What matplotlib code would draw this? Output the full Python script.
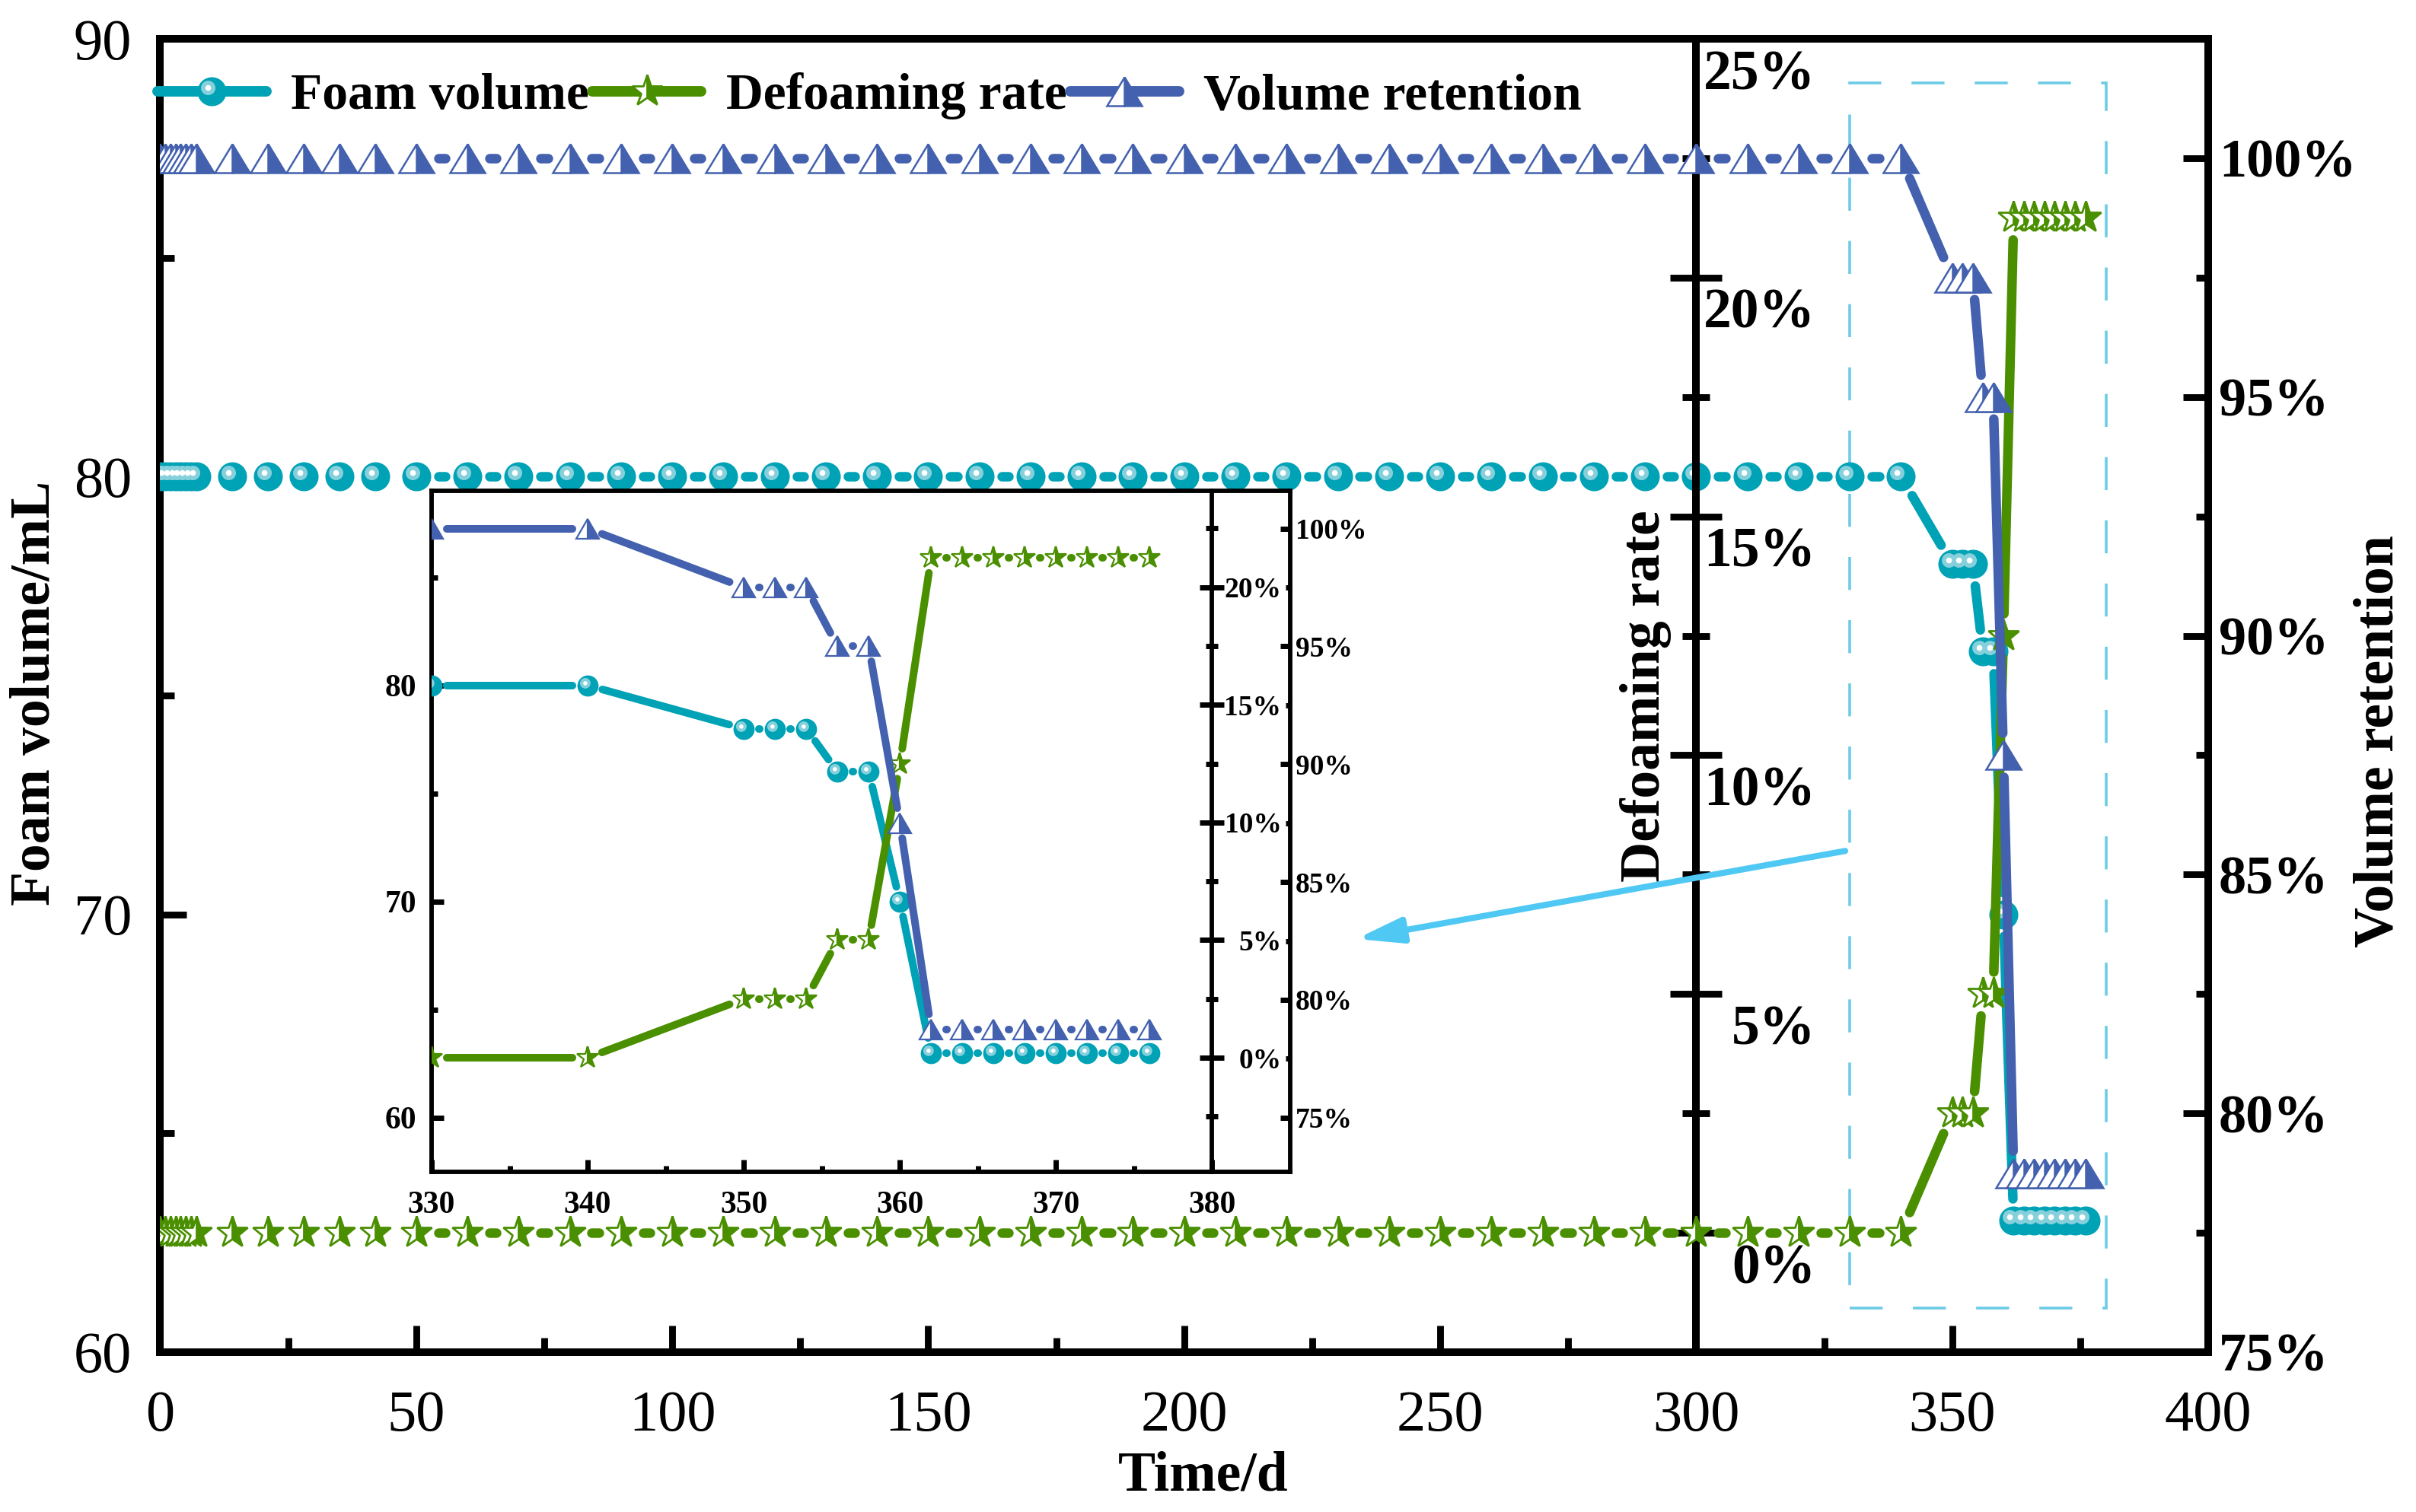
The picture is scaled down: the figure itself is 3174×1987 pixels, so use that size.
import numpy as np
import matplotlib
matplotlib.use("Agg")
from matplotlib import pyplot as plt
from matplotlib.collections import LineCollection
from matplotlib.lines import Line2D
from matplotlib.markers import MarkerStyle
from matplotlib.patches import Rectangle
from matplotlib.transforms import Affine2D, ScaledTranslation

plt.rcParams["font.family"] = ["Liberation Serif", "DejaVu Serif"]

# ---- values ----
time_d = [0, 1, 2, 3, 4, 5, 6, 7, 14, 21, 28, 35, 42,
          50, 60, 70, 80, 90, 100, 110, 120, 130, 140, 150, 160, 170, 180, 190,
          200, 210, 220, 230, 240, 250, 260, 270, 280, 290, 300, 310, 320, 330, 340,
          350, 352, 354, 356, 358, 360, 362, 364, 366, 368, 370, 372, 374, 376]
foam_ml = [80, 80, 80, 80, 80, 80, 80, 80, 80, 80, 80, 80, 80,
           80, 80, 80, 80, 80, 80, 80, 80, 80, 80, 80, 80, 80, 80, 80,
           80, 80, 80, 80, 80, 80, 80, 80, 80, 80, 80, 80, 80, 80, 80,
           78, 78, 78, 76, 76, 70, 63, 63, 63, 63, 63, 63, 63, 63]
defoam_pct = [0, 0, 0, 0, 0, 0, 0, 0, 0, 0, 0, 0, 0,
              0, 0, 0, 0, 0, 0, 0, 0, 0, 0, 0, 0, 0, 0, 0,
              0, 0, 0, 0, 0, 0, 0, 0, 0, 0, 0, 0, 0, 0, 0,
              2.5, 2.5, 2.5, 5, 5, 12.5, 21.25, 21.25, 21.25, 21.25, 21.25, 21.25, 21.25, 21.25]
retention_pct = [100, 100, 100, 100, 100, 100, 100, 100, 100, 100, 100, 100, 100,
                 100, 100, 100, 100, 100, 100, 100, 100, 100, 100, 100, 100, 100, 100, 100,
                 100, 100, 100, 100, 100, 100, 100, 100, 100, 100, 100, 100, 100, 100, 100,
                 97.5, 97.5, 97.5, 95, 95, 87.5, 78.75, 78.75, 78.75, 78.75, 78.75, 78.75, 78.75, 78.75]
series_names = ["Foam volume", "Defoaming rate", "Volume retention"]

x_ticks = [0, 50, 100, 150, 200, 250, 300, 350, 400]
x_minor = [25, 75, 125, 175, 225, 275, 325, 375]
foam_ticks = [60, 70, 80, 90]
foam_minor = [65, 75, 85]
defoam_ticks = [0, 5, 10, 15, 20, 25]
defoam_labels = ["0%", "5%", "10%", "15%", "20%", "25%"]
defoam_minor = [-2.5, 2.5, 7.5, 12.5, 17.5, 22.5]
ret_ticks = [75, 80, 85, 90, 95, 100]
ret_labels = ["75%", "80%", "85%", "90%", "95%", "100%"]
ret_minor = [77.5, 82.5, 87.5, 92.5, 97.5]

in_x_ticks = [330, 340, 350, 360, 370, 380]
in_x_labels = ["330", "340", "350", "360", "370", "380"]
in_x_minor = [335, 345, 355, 365, 375]
in_foam_ticks = [60, 70, 80]
in_foam_labels = ["60", "70", "80"]
in_foam_minor = [65, 75, 85]
in_defoam_ticks = [0, 5, 10, 15, 20]
in_defoam_labels = ["0%", "5%", "10%", "15%", "20%"]

TEAL = "#00A2B6"
RING = "#86D0DC"
GREEN = "#4A8F00"
BLUE = "#4361AE"
ARROW = "#4FC8F4"
BOX = "#6CCBE6"

fig = plt.figure(figsize=(15.87, 9.935), dpi=200)


def gapped(axis, x, y, gap_pt):
    """Line pieces between symbols, each end pulled back by gap_pt (Origin style)."""
    pts = axis.transData.transform(np.column_stack([x, y]))
    g = gap_pt * fig.dpi / 72.0
    inv = axis.transData.inverted()
    segs = []
    for p, q in zip(pts[:-1], pts[1:]):
        d = np.hypot(*(q - p))
        if d <= 2 * g:
            continue
        u = (q - p) / d
        segs.append(inv.transform(np.array([p + u * g, q - u * g])))
    return segs


def ball(size):
    return [dict(marker="o", ms=size, mfc=TEAL, mec="none"),
            dict(marker=MarkerStyle("o", transform=Affine2D().translate(-0.26, 0.26)),
                 ms=0.5 * size, mfc=RING, mec="none"),
            dict(marker=MarkerStyle("o", transform=Affine2D().translate(-0.65, 0.65)),
                 ms=0.2 * size, mfc="white", mec="none")]


def star(size, mew):
    return [dict(marker=MarkerStyle("*", fillstyle="right"), ms=size, mfc=GREEN,
                 mfcalt="white", mec=GREEN, mew=mew)]


def tri(size, sx, mew):
    return [dict(marker=MarkerStyle("^", fillstyle="right", transform=Affine2D().scale(sx, 1)),
                 ms=size, mfc=BLUE, mfcalt="white", mec=BLUE, mew=mew)]


def draw_series(axis, x, y, color, lw, gap, markers):
    axis.add_collection(LineCollection(gapped(axis, x, y, gap), colors=color,
                                       linewidths=lw, capstyle="round", zorder=2))
    for m in markers:
        axis.plot(x, y, ls="none", zorder=3, **m)


def shift_labels(axis, ha, dy_pt=0.0):
    off = ScaledTranslation(0, -dy_pt / 72, fig.dpi_scale_trans)
    for t in axis.yaxis.get_major_ticks():
        t.label2.set_horizontalalignment(ha)
        t.label2.set_transform(t.label2.get_transform() + off)


# ---------------- main axes ----------------
ax = fig.add_axes([0.0663, 0.1057, 0.8477, 0.8686])
ax2 = ax.twinx()
ax3 = ax.twinx()
ax.set_xlim(0, 400)
ax.set_ylim(60, 90)
ax2.set_ylim(-2.5, 25)
ax3.set_ylim(75, 102.5)

for s in ax.spines.values():
    s.set_linewidth(3.6)
ax.spines["right"].set_visible(False)
for k in ("left", "top", "bottom"):
    ax2.spines[k].set_visible(False)
    ax3.spines[k].set_visible(False)
ax2.spines["right"].set_position(("data", 300))
ax2.spines["right"].set_linewidth(3.6)
ax3.spines["right"].set_linewidth(3.6)

ax.tick_params(which="both", direction="in", width=3.2, top=False, right=False)
ax.tick_params(which="major", length=12.6)
ax.tick_params(which="minor", length=6.8)
ax.tick_params(axis="x", pad=18, labelsize=27.5)
ax.tick_params(axis="y", pad=13.5, labelsize=27.5)
ax.set_xticks(x_ticks)
ax.set_xticks(x_minor, minor=True)
ax.set_yticks(foam_ticks)
ax.set_yticks(foam_minor, minor=True)

ax2.tick_params(axis="y", which="both", direction="inout", width=3.2, right=True,
                left=False, labelright=True, labelleft=False, pad=44, labelsize=26.5)
ax2.tick_params(axis="y", which="major", length=24.8)
ax2.tick_params(axis="y", which="minor", length=13)
ax2.set_yticks(defoam_ticks, labels=defoam_labels, fontweight="bold")
ax2.set_yticks(defoam_minor, minor=True)

ax3.tick_params(axis="y", which="both", direction="in", width=3.2, right=True,
                left=False, labelright=True, pad=5, labelsize=26)
ax3.tick_params(axis="y", which="major", length=11.9)
ax3.tick_params(axis="y", which="minor", length=5.8)
ax3.set_yticks(ret_ticks, labels=ret_labels, fontweight="bold")
ax3.set_yticks(ret_minor, minor=True)

lab = dict(fontsize=26.5, fontweight="bold")
ax.set_xlabel("Time/d", va="center", **lab)
ax.xaxis.set_label_coords(0.5094, -0.0945)
ax.set_ylabel("Foam volume/mL", va="center", **lab)
ax.yaxis.set_label_coords(-0.0607, 0.502)
ax2.set_ylabel("Defoaming rate", va="center", **lab)
ax2.yaxis.set_label_coords(0.7255, 0.4995)
ax3.set_ylabel("Volume retention", va="center", **lab)
ax3.yaxis.set_label_coords(1.0835, 0.4655)

draw_series(ax, time_d, foam_ml, TEAL, 4.5, 10.4, ball(13.7))
draw_series(ax2, time_d, defoam_pct, GREEN, 4.5, 10.4, star(15.5, 1.0))
draw_series(ax3, time_d, retention_pct, BLUE, 4.5, 10.4, tri(14, 1.2, 0.9))

# zoom box and arrow pointing to the inset
ax.add_patch(Rectangle((330, 61), 50, 28, fill=False, edgecolor=BOX, lw=1.3,
                       ls=(0, (12, 11)), zorder=1))
ax3.annotate("", xy=(233.6, 69.44), xycoords=ax.transData,
             xytext=(329.1, 71.45), textcoords=ax.transData,
             arrowprops=dict(arrowstyle="-|>,head_length=1.8,head_width=0.5",
                             color=ARROW, lw=2.9, shrinkA=0, shrinkB=0,
                             mutation_scale=10))

# ---------------- inset ----------------
sel = np.array(time_d) >= 330
tx = np.array(time_d)[sel]
ain = fig.add_axes([0.17864, 0.22496, 0.35539, 0.45043])
ain.set_facecolor("white")
ain2 = ain.twinx()
ain3 = ain.twinx()
ain.set_xlim(330, 385)
ain.set_ylim(57.5, 89)
ain2.set_ylim(-4.85, 24.1)
ain3.set_ylim(72.7, 101.6)

for s in ain.spines.values():
    s.set_linewidth(2.1)
ain.spines["right"].set_visible(False)
for k in ("left", "top", "bottom"):
    ain2.spines[k].set_visible(False)
    ain3.spines[k].set_visible(False)
ain2.spines["right"].set_position(("data", 380))
ain2.spines["right"].set_linewidth(2.1)
ain3.spines["right"].set_linewidth(2.1)

ain.tick_params(which="both", direction="in", width=2.5, top=False, right=False, labelsize=15)
ain.tick_params(which="major", length=5.8)
ain.tick_params(which="minor", length=3)
ain.tick_params(axis="x", pad=9)
ain.tick_params(axis="y", pad=7)
ain.set_xticks(in_x_ticks, labels=in_x_labels, fontweight="bold")
ain.set_xticks(in_x_minor, minor=True)
ain.set_yticks(in_foam_ticks, labels=in_foam_labels, fontweight="bold")
ain.set_yticks(in_foam_minor, minor=True)

ain2.tick_params(axis="y", which="both", direction="inout", width=2.5, right=True,
                 left=False, labelright=True, labelleft=False, pad=27, labelsize=13.5)
ain2.tick_params(axis="y", which="major", length=11.5)
ain2.tick_params(axis="y", which="minor", length=6.1)
ain2.set_yticks(in_defoam_ticks, labels=in_defoam_labels, fontweight="bold")
ain2.set_yticks(defoam_minor, minor=True)

ain3.tick_params(axis="y", which="both", direction="in", width=2.5, right=True,
                 left=False, labelright=True, pad=2.4, labelsize=13.5)
ain3.tick_params(axis="y", which="major", length=4.7)
ain3.tick_params(axis="y", which="minor", length=2.2)
ain3.set_yticks(ret_ticks, labels=ret_labels, fontweight="bold")
ain3.set_yticks(ret_minor, minor=True)

draw_series(ain, tx, np.array(foam_ml)[sel], TEAL, 3.6, 7.2, ball(10))
draw_series(ain2, tx, np.array(defoam_pct)[sel], GREEN, 3.6, 7.2, star(10.5, 0.8))
draw_series(ain3, tx, np.array(retention_pct)[sel], BLUE, 3.6, 7.2, tri(9.4, 1.15, 0.8))

# ---------------- legend ----------------
h_foam = tuple(Line2D([], [], color=TEAL, lw=5 if i == 0 else 0, solid_capstyle="round",
                      ls="-" if i == 0 else "none", **m) for i, m in enumerate(ball(13.7)))
h_def = Line2D([], [], color=GREEN, lw=5, solid_capstyle="round", **star(15.5, 1.0)[0])
h_ret = Line2D([], [], color=BLUE, lw=5, solid_capstyle="round", **tri(14, 1.2, 0.9)[0])
fig.legend([h_foam, h_def, h_ret], series_names, loc="center left",
           bbox_to_anchor=(0.0652, 0.9365), ncol=3, frameon=False, borderpad=0,
           borderaxespad=0, handlelength=2.12, handletextpad=0.48, columnspacing=0.06,
           prop={"size": 24.3, "weight": "bold"})

shift_labels(ax2, "right", 14.4)
shift_labels(ain2, "right", 0.0)

fig.savefig("out.png", dpi=200)
